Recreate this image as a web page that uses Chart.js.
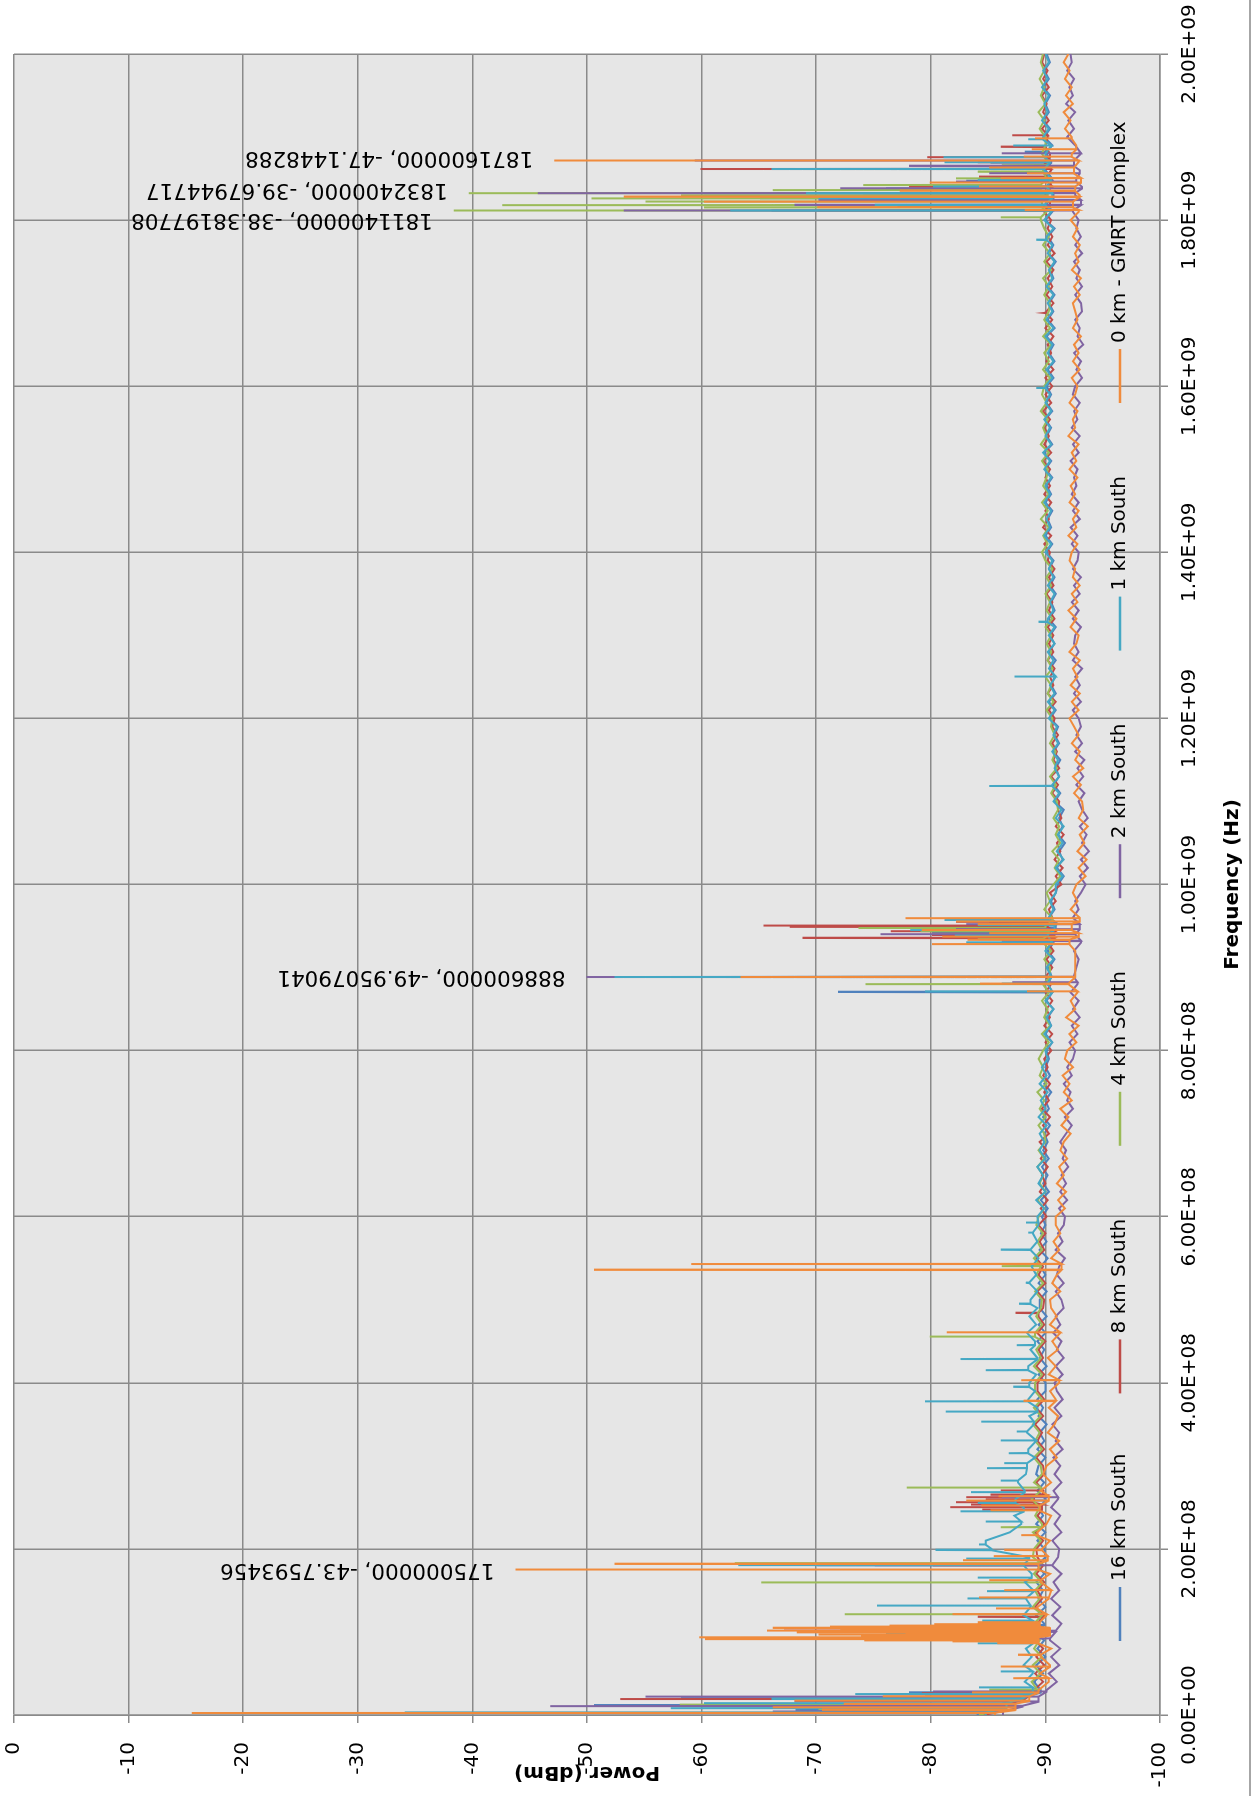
<!DOCTYPE html>
<html>
<head>
<meta charset="utf-8">
<title>Spectrum south of GMRT</title>
<script src="https://cdn.jsdelivr.net/npm/chart.js@4.4.1/dist/chart.umd.min.js"></script>
<style>
  html, body { margin: 0; padding: 0; background: #ffffff; overflow: hidden; width: 1257px; height: 1796px; }
  /* the sheet is printed in landscape and turned a quarter turn */
  #sheet { position: absolute; left: 0; top: 0; width: 1796px; height: 1257px;
           transform-origin: 0 0; transform: translate(0, 1796px) rotate(-90deg); }
  canvas { display: block; }
</style>
</head>
<body>
<div id="sheet"><canvas id="spectrum" width="1796" height="1257"></canvas></div>
<script>
// ---- series ----
const seriesNames  = ['16 km South', '8 km South', '4 km South', '2 km South', '1 km South', '0 km - GMRT Complex'];
const seriesColors = ['#4F81BD', '#BE4B48', '#9BBB59', '#8064A2', '#45A8C4', '#F08B3C'];

// ---- axes ----
const freqTickValues = [0, 2e8, 4e8, 6e8, 8e8, 1e9, 1.2e9, 1.4e9, 1.6e9, 1.8e9, 2e9];
const freqTickLabels = ['0.00E+00', '2.00E+08', '4.00E+08', '6.00E+08', '8.00E+08', '1.00E+09',
                        '1.20E+09', '1.40E+09', '1.60E+09', '1.80E+09', '2.00E+09'];
const powerTickValues = [-100, -90, -80, -70, -60, -50, -40, -30, -20, -10, 0];
const powerTickLabels = ['-100', '-90', '-80', '-70', '-60', '-50', '-40', '-30', '-20', '-10', '0'];
const freqTitle  = 'Frequency (Hz)';
const powerTitle = 'Power (dBm)';

// ---- sweep points (MHz) ----
const sweepMHz = [
  0, 10, 20, 30, 40, 50, 60, 70, 80, 90,
  100, 110, 120, 130, 140, 150, 160, 170, 180, 190,
  200, 210, 220, 230, 240, 250, 260, 270, 280, 290,
  300, 310, 320, 330, 340, 350, 360, 370, 380, 390,
  400, 410, 420, 430, 440, 450, 460, 470, 480, 490,
  500, 510, 520, 530, 540, 550, 560, 570, 580, 590,
  600, 610, 620, 630, 640, 650, 660, 670, 680, 690,
  700, 710, 720, 730, 740, 750, 760, 770, 780, 790,
  800, 810, 820, 830, 840, 850, 860, 870, 880, 890,
  900, 910, 920, 930, 940, 950, 960, 970, 980, 990,
  1000, 1010, 1020, 1030, 1040, 1050, 1060, 1070, 1080, 1090,
  1100, 1110, 1120, 1130, 1140, 1150, 1160, 1170, 1180, 1190,
  1200, 1210, 1220, 1230, 1240, 1250, 1260, 1270, 1280, 1290,
  1300, 1310, 1320, 1330, 1340, 1350, 1360, 1370, 1380, 1390,
  1400, 1410, 1420, 1430, 1440, 1450, 1460, 1470, 1480, 1490,
  1500, 1510, 1520, 1530, 1540, 1550, 1560, 1570, 1580, 1590,
  1600, 1610, 1620, 1630, 1640, 1650, 1660, 1670, 1680, 1690,
  1700, 1710, 1720, 1730, 1740, 1750, 1760, 1770, 1780, 1790,
  1800, 1810, 1820, 1830, 1840, 1850, 1860, 1870, 1880, 1890,
  1900, 1910, 1920, 1930, 1940, 1950, 1960, 1970, 1980, 1990,
  2000
];

// ---- noise floor at each sweep point (dBm) ----
const floor16km = [
  -84.0, -85.9, -87.8, -89.6, -89.0, -89.8, -89.2, -90.0, -89.3, -89.9,
  -89.3, -89.9, -89.2, -90.0, -89.4, -89.8, -89.2, -89.9, -89.3, -90.0,
  -89.9, -89.3, -90.0, -89.2, -89.8, -89.4, -90.0, -89.3, -89.9, -89.2,
  -89.4, -90.0, -89.3, -89.9, -89.5, -90.1, -89.4, -89.8, -89.3, -90.0,
  -90.0, -89.4, -90.1, -89.5, -89.9, -89.3, -90.0, -89.4, -90.1, -89.5,
  -89.5, -90.1, -89.4, -90.0, -89.6, -90.2, -89.5, -90.1, -89.6, -90.0,
  -89.7, -90.2, -89.6, -90.3, -89.8, -90.2, -89.7, -90.3, -89.8, -90.2,
  -89.9, -90.4, -89.8, -90.3, -90.0, -90.5, -89.9, -90.4, -90.0, -90.3,
  -90.1, -90.6, -90.0, -90.5, -90.2, -90.7, -90.1, -90.6, -90.2, -90.5,
  -90.3, -90.8, -90.2, -90.7, -90.4, -90.9, -90.3, -90.8, -90.5, -90.9,
  -91.1, -91.6, -91.0, -91.5, -91.2, -91.7, -91.1, -91.5, -91.2, -91.6,
  -90.8, -91.3, -90.7, -91.2, -90.9, -91.3, -90.7, -91.2, -90.8, -91.1,
  -90.4, -90.9, -90.3, -90.9, -90.5, -90.8, -90.4, -90.9, -90.3, -90.8,
  -90.4, -90.9, -90.3, -90.8, -90.5, -90.9, -90.4, -90.8, -90.3, -90.7,
  -90.1, -90.6, -90.0, -90.5, -90.2, -90.6, -90.0, -90.5, -90.1, -90.6,
  -90.0, -90.5, -89.9, -90.6, -90.1, -90.5, -90.0, -90.6, -90.1, -90.5,
  -90.1, -90.7, -90.2, -90.8, -90.3, -90.7, -90.1, -90.8, -90.2, -90.7,
  -90.3, -90.8, -90.2, -90.7, -90.4, -90.9, -90.3, -90.7, -90.2, -90.8,
  -90.0, -90.6, -90.1, -90.7, -90.2, -90.6, -90.0, -90.5, -90.1, -90.6,
  -89.9, -90.4, -89.8, -90.3, -90.0, -90.4, -89.8, -90.3, -89.9, -90.4,
  -90.1
];
const floor8km = [
  -84.6, -86.3, -88.2, -89.0, -89.8, -89.1, -89.9, -89.2, -89.8, -89.1,
  -89.8, -89.2, -89.9, -89.1, -89.7, -89.3, -89.9, -89.2, -89.8, -89.3,
  -89.2, -89.8, -89.1, -89.9, -89.3, -89.7, -89.0, -89.8, -89.2, -89.9,
  -89.8, -89.2, -89.9, -89.3, -89.7, -89.1, -89.8, -89.2, -89.9, -89.3,
  -89.3, -89.9, -89.2, -89.8, -89.4, -90.0, -89.3, -89.9, -89.4, -89.8,
  -89.9, -89.3, -90.0, -89.4, -89.8, -89.2, -89.9, -89.5, -90.0, -89.4,
  -90.1, -89.6, -90.2, -89.5, -90.0, -89.7, -90.2, -89.6, -90.1, -89.5,
  -90.3, -89.8, -90.4, -89.7, -90.3, -89.9, -90.4, -89.8, -90.2, -89.9,
  -90.5, -90.0, -90.6, -89.9, -90.4, -90.1, -90.6, -90.0, -90.5, -90.1,
  -90.6, -90.1, -90.7, -90.2, -90.8, -90.2, -90.6, -90.3, -90.9, -90.4,
  -91.4, -90.9, -91.5, -90.8, -91.3, -91.0, -91.6, -90.9, -91.4, -91.1,
  -91.2, -90.6, -91.1, -90.5, -91.2, -90.7, -91.0, -90.6, -91.1, -90.6,
  -90.8, -90.3, -90.9, -90.2, -90.7, -90.4, -90.8, -90.2, -90.7, -90.3,
  -90.7, -90.2, -90.8, -90.3, -90.6, -90.1, -90.7, -90.3, -90.8, -90.2,
  -90.4, -89.9, -90.5, -89.8, -90.3, -90.0, -90.5, -89.9, -90.4, -90.0,
  -90.4, -89.8, -90.5, -89.9, -90.3, -89.9, -90.4, -89.8, -90.5, -90.0,
  -90.6, -90.0, -90.7, -90.1, -90.5, -90.2, -90.7, -90.0, -90.6, -90.1,
  -90.7, -90.1, -90.6, -90.2, -90.7, -90.1, -90.8, -90.2, -90.6, -90.2,
  -90.5, -89.9, -90.4, -90.0, -90.6, -90.1, -90.5, -89.9, -90.4, -90.0,
  -90.2, -89.7, -90.3, -89.8, -90.1, -89.7, -90.3, -89.8, -90.2, -89.7,
  -89.9
];
const floor4km = [
  -84.2, -86.1, -88.0, -89.3, -88.8, -89.6, -88.9, -89.7, -89.0, -89.5,
  -89.6, -89.0, -89.7, -88.9, -89.5, -89.1, -89.7, -89.0, -89.6, -88.9,
  -89.0, -89.6, -88.9, -89.7, -89.1, -89.5, -88.8, -89.6, -89.0, -89.7,
  -89.6, -89.0, -89.7, -89.1, -89.5, -88.9, -89.6, -89.0, -89.7, -89.1,
  -89.1, -89.7, -89.0, -89.6, -89.2, -89.8, -89.1, -89.7, -89.2, -89.6,
  -89.7, -89.1, -89.8, -89.2, -89.6, -89.0, -89.7, -89.3, -89.8, -89.2,
  -89.4, -89.9, -89.3, -90.0, -89.5, -89.8, -89.3, -89.9, -89.4, -90.0,
  -89.9, -89.4, -90.0, -89.5, -89.9, -89.3, -90.1, -89.5, -89.8, -89.4,
  -89.8, -90.3, -89.7, -90.4, -89.9, -90.2, -89.7, -90.3, -89.8, -90.4,
  -90.4, -89.9, -90.5, -89.8, -90.3, -90.0, -90.6, -89.9, -90.4, -90.1,
  -90.7, -91.3, -90.8, -91.2, -90.6, -91.3, -90.9, -91.2, -90.7, -91.1,
  -91.0, -90.5, -90.9, -90.4, -91.0, -90.6, -90.9, -90.4, -90.8, -90.5,
  -90.6, -90.1, -90.7, -90.2, -90.5, -90.0, -90.6, -90.2, -90.5, -90.1,
  -90.5, -90.0, -90.6, -90.1, -90.4, -90.0, -90.5, -90.1, -90.6, -90.0,
  -89.7, -90.2, -89.8, -90.3, -89.6, -90.2, -89.7, -90.3, -89.8, -90.1,
  -90.2, -89.7, -90.3, -89.6, -90.1, -89.8, -90.2, -89.6, -90.1, -89.7,
  -89.9, -90.4, -89.8, -90.3, -89.9, -90.5, -89.8, -90.4, -89.9, -90.3,
  -90.4, -89.9, -90.3, -89.8, -90.5, -89.9, -90.4, -89.8, -90.3, -89.9,
  -89.6, -90.1, -89.7, -90.2, -89.6, -90.1, -89.8, -90.2, -89.7, -90.0,
  -90.0, -89.5, -89.9, -89.4, -90.0, -89.6, -89.9, -89.5, -89.9, -89.6,
  -89.8
];
const floor2km = [
  -86.3, -88.0, -89.4, -90.1, -91.0, -90.3, -91.2, -90.5, -91.3, -90.4,
  -90.9, -91.4, -90.6, -91.3, -90.5, -91.2, -90.7, -91.4, -90.6, -91.1,
  -91.2, -90.6, -91.4, -90.8, -91.3, -90.5, -91.1, -90.7, -91.4, -90.8,
  -91.3, -90.7, -91.5, -90.9, -91.2, -90.6, -91.4, -90.8, -91.5, -91.0,
  -90.8, -91.5, -90.9, -91.6, -91.0, -91.4, -90.7, -91.3, -90.9, -91.6,
  -91.4, -90.9, -91.6, -91.0, -91.2, -91.7, -90.9, -91.5, -91.1, -91.6,
  -91.7, -91.2, -91.9, -91.3, -91.8, -91.4, -92.0, -91.5, -91.8, -91.3,
  -91.8, -92.3, -91.7, -92.4, -91.9, -92.2, -91.6, -92.3, -91.9, -92.4,
  -92.6, -92.1, -92.8, -92.3, -93.0, -92.4, -92.9, -92.2, -92.8, -92.5,
  -92.7, -92.9, -92.5, -93.1, -92.6, -93.0, -92.4, -92.9, -92.6, -93.1,
  -93.5, -93.0, -93.7, -93.1, -93.8, -93.2, -93.6, -93.0, -93.7, -93.2,
  -92.9, -93.4, -92.7, -93.3, -92.8, -93.4, -92.6, -93.2, -92.7, -93.1,
  -92.9, -92.4, -93.1, -92.5, -93.0, -92.6, -93.2, -92.4, -92.9, -92.5,
  -92.6, -93.1, -92.4, -92.9, -92.3, -93.0, -92.5, -93.1, -92.4, -92.8,
  -92.9, -92.3, -92.8, -92.2, -93.0, -92.4, -92.9, -92.3, -92.7, -92.5,
  -92.8, -92.2, -92.9, -92.4, -93.0, -92.3, -92.8, -92.5, -93.0, -92.4,
  -92.6, -93.2, -92.7, -93.1, -92.5, -93.3, -92.8, -93.0, -92.6, -93.2,
  -93.1, -92.6, -93.2, -92.7, -93.0, -92.5, -93.2, -92.6, -93.1, -92.7,
  -92.9, -92.4, -93.1, -92.6, -93.2, -92.7, -93.0, -92.5, -93.1, -92.6,
  -91.9, -92.5, -92.0, -92.6, -91.8, -92.4, -92.1, -92.5, -91.9, -92.3,
  -92.2
];
const floor1km = [
  -84.8, -86.6, -87.8, -88.9, -88.2, -88.9, -88.1, -88.8, -88.3, -88.9,
  -88.2, -88.9, -88.1, -88.7, -88.3, -89.0, -88.2, -88.8, -88.1, -88.6,
  -85.3, -84.8, -86.9, -87.9, -87.3, -88.1, -87.4, -88.2, -87.6, -88.3,
  -88.4, -89.1, -88.5, -89.2, -88.4, -89.0, -88.6, -89.3, -88.5, -89.1,
  -88.6, -89.2, -88.5, -89.3, -88.7, -89.1, -88.4, -89.2, -88.6, -89.3,
  -88.7, -89.3, -88.6, -89.2, -88.8, -89.4, -88.7, -89.3, -88.9, -89.4,
  -89.3, -89.9, -89.2, -90.0, -89.4, -89.8, -89.3, -90.0, -89.5, -89.9,
  -89.5, -90.1, -89.4, -90.0, -89.6, -90.2, -89.5, -90.1, -89.7, -90.2,
  -90.0, -90.6, -89.9, -90.5, -90.1, -90.7, -90.0, -90.6, -90.2, -90.5,
  -90.1, -90.7, -90.0, -90.6, -90.2, -90.8, -90.3, -90.7, -90.4, -90.9,
  -90.9, -91.5, -90.9, -91.6, -91.0, -91.5, -91.1, -91.6, -90.9, -91.4,
  -90.7, -91.2, -90.6, -91.2, -90.8, -91.1, -90.6, -91.1, -90.7, -91.0,
  -90.3, -90.8, -90.2, -90.8, -90.4, -90.9, -90.3, -90.7, -90.2, -90.8,
  -90.3, -90.8, -90.2, -90.7, -90.4, -90.8, -90.2, -90.7, -90.3, -90.6,
  -90.0, -90.5, -89.9, -90.4, -90.1, -90.5, -89.9, -90.4, -90.0, -90.5,
  -89.9, -90.4, -89.8, -90.5, -90.0, -90.4, -89.9, -90.5, -90.0, -90.4,
  -90.0, -90.6, -90.1, -90.7, -90.2, -90.6, -90.0, -90.7, -90.1, -90.6,
  -90.2, -90.7, -90.1, -90.6, -90.3, -90.8, -90.2, -90.6, -90.1, -90.7,
  -89.9, -90.5, -90.0, -90.6, -90.1, -90.5, -89.9, -90.4, -90.0, -90.5,
  -89.8, -90.3, -89.7, -90.2, -89.9, -90.3, -89.7, -90.2, -89.8, -90.3,
  -90.0
];
const floor0km = [
  -85.6, -87.4, -88.6, -89.4, -90.3, -89.5, -90.4, -89.6, -90.5, -89.4,
  -90.4, -89.5, -90.1, -89.3, -90.3, -90.5, -89.6, -90.4, -89.4, -90.2,
  -89.7, -90.4, -89.3, -90.1, -90.5, -89.5, -90.3, -89.6, -90.5, -89.8,
  -90.1, -91.0, -90.4, -91.2, -90.2, -90.8, -91.1, -90.3, -90.9, -90.4,
  -91.2, -90.3, -90.9, -90.2, -91.1, -90.6, -91.3, -90.4, -91.0, -90.5,
  -90.4, -91.3, -90.6, -91.0, -91.4, -90.5, -91.2, -90.7, -91.3, -90.9,
  -90.9, -91.7, -91.1, -91.8, -91.0, -91.6, -91.2, -91.9, -91.3, -91.6,
  -92.2, -91.4, -92.0, -91.3, -92.3, -91.6, -92.1, -91.5, -92.4, -91.7,
  -91.9, -92.7, -92.1, -92.9, -91.8, -92.6, -92.2, -92.8, -92.0, -92.6,
  -92.6, -92.6, -92.6, -92.1, -92.9, -92.3, -93.0, -92.2, -92.8, -92.4,
  -92.7, -93.5, -92.9, -93.6, -92.8, -93.4, -93.0, -93.7, -92.9, -93.3,
  -93.2, -92.5, -93.1, -92.4, -93.3, -92.6, -93.0, -92.3, -92.9, -92.5,
  -92.1, -92.9, -92.3, -93.0, -92.2, -92.8, -92.4, -93.0, -92.1, -92.7,
  -92.9, -92.2, -92.7, -92.0, -92.8, -92.3, -93.0, -92.4, -92.6, -92.1,
  -92.3, -92.8, -92.0, -92.7, -92.4, -92.9, -92.1, -92.6, -92.2, -92.8,
  -92.1, -92.7, -92.3, -92.9, -92.0, -92.6, -92.4, -92.8, -92.1, -92.6,
  -92.8, -92.3, -93.0, -92.4, -92.9, -92.5, -93.1, -92.4, -92.8, -92.6,
  -92.4, -93.0, -92.5, -93.1, -92.3, -92.9, -92.6, -93.0, -92.4, -92.8,
  -92.2, -92.9, -92.4, -93.0, -92.6, -93.1, -92.5, -92.9, -92.3, -92.7,
  -92.3, -91.7, -92.2, -91.6, -92.4, -91.8, -92.3, -91.7, -92.1, -91.6,
  -92.0
];

// ---- narrow carriers: [MHz, dBm] ----
const spikes16km = [
  [6.1, -68.2], [12.0, -50.6], [20.1, -58.2], [27.2, -78.1],
  [96.1, -77.2], [108.2, -82.1], [180.4, -70.1], [258.2, -86.1],
  [870.6, -71.9], [888.6, -62.1],
  [936.1, -84.2], [942.1, -80.1], [948.2, -80.2], [954.1, -85.1],
  [1811.4, -66.1], [1818.1, -72.2], [1826.2, -65.1], [1832.4, -60.2], [1838.1, -76.1],
  [1847.2, -83.1], [1861.5, -76.4], [1869.1, -85.2], [1882.1, -88.2]
];
const spikes8km = [
  [5.2, -72.1], [10.8, -60.1], [19.2, -52.9], [26.1, -79.2],
  [97.2, -78.1], [104.1, -67.2], [118.2, -84.1], [180.1, -80.2],
  [247.2, -84.5], [250.1, -81.7], [253.2, -83.5], [256.1, -82.2], [259.2, -84.8],
  [262.1, -83.1], [265.2, -85.2], [270.4, -86.1],
  [484.1, -87.4], [888.6, -70.1],
  [935.6, -68.8], [939.2, -80.1], [943.6, -76.5], [949.0, -67.7], [950.4, -65.4], [955.1, -82.2],
  [1688.2, -89.9], [1811.4, -70.2], [1816.1, -77.1], [1824.0, -71.9], [1832.4, -74.1],
  [1840.2, -78.1], [1852.1, -84.2], [1861.5, -59.9], [1869.5, -84.1], [1875.6, -79.7],
  [1888.2, -86.1], [1902.0, -87.1]
];
const spikes4km = [
  [7.1, -70.2], [12.2, -58.1], [22.3, -79.5], [30.4, -85.1],
  [94.2, -80.1], [121.2, -72.5], [159.3, -65.2], [182.7, -62.9], [226.1, -86.1],
  [273.7, -77.9], [455.5, -79.9], [540.6, -86.2],
  [880.0, -74.3], [888.6, -65.1],
  [934.2, -84.1], [943.6, -79.1], [947.6, -73.7], [956.1, -84.2],
  [1803.2, -86.1], [1811.4, -38.38197708], [1815.1, -60.2], [1818.0, -42.6], [1822.2, -55.1],
  [1826.0, -50.4], [1829.1, -58.2], [1832.4, -39.67944717], [1836.1, -66.2], [1842.2, -74.1],
  [1850.1, -82.2], [1858.2, -84.1], [1866.1, -86.2]
];
const spikes2km = [
  [4.1, -66.2], [10.8, -46.8], [16.2, -68.1], [22.0, -55.1], [28.2, -80.2],
  [92.1, -73.2], [101.2, -80.1], [180.2, -75.1], [262.1, -86.2],
  [882.2, -87.1], [888.6, -49.95079041],
  [932.1, -86.2], [940.0, -75.6], [946.1, -82.2], [952.2, -83.1],
  [1811.4, -53.2], [1818.2, -68.1], [1824.1, -70.2], [1832.4, -45.7], [1838.2, -72.1],
  [1846.1, -82.2], [1856.3, -85.1], [1865.2, -78.1], [1871.6, -59.4], [1880.3, -86.2]
];
const spikes1km = [
  [3.0, -34.1], [8.2, -57.3], [14.1, -60.2], [19.3, -66.1], [25.2, -73.4], [33.1, -84.2], [52.3, -86.1],
  [86.2, -84.1], [95.1, -81.2], [98.3, -76.1], [104.2, -79.3], [113.4, -84.5], [131.6, -75.3],
  [140.2, -83.2], [149.1, -84.9], [165.3, -84.1], [180.6, -63.2], [188.2, -83.1], [198.7, -80.4],
  [205.2, -84.2], [232.8, -84.8], [245.1, -82.6], [255.3, -84.1], [268.2, -83.5], [282.1, -86.1],
  [297.2, -84.9], [303.1, -86.4], [315.2, -86.8], [330.6, -86.1], [341.2, -87.5], [353.1, -84.4],
  [365.2, -81.3], [377.5, -79.5], [395.1, -87.2], [415.2, -84.8], [428.6, -82.6], [445.3, -87.5],
  [495.1, -87.7], [520.4, -88.3], [560.2, -86.1], [580.7, -88.5], [592.8, -88.3],
  [871.1, -79.5], [880.6, -86.2], [888.6, -52.4],
  [930.4, -83.1], [938.2, -82.1], [945.1, -78.2], [951.2, -84.1], [957.3, -81.2],
  [1118.6, -85.1], [1250.4, -87.3], [1316.2, -89.4], [1597.8, -89.2], [1776.2, -89.2],
  [1811.4, -62.5], [1818.2, -75.1], [1826.1, -70.2], [1832.4, -69.1], [1840.3, -80.2],
  [1848.2, -84.1], [1861.5, -66.1], [1869.5, -81.2], [1875.6, -81.1], [1889.6, -87.2], [1897.2, -88.5]
];
const spikes0km = [
  [2.4, -15.5], [6.2, -70.5], [9.1, -66.2], [13.3, -72.4], [17.2, -68.1], [22.4, -75.8], [27.1, -83.6],
  [44.3, -87.2], [58.2, -86.1], [72.4, -87.6],
  [86.3, -85.8], [88.5, -81.9], [89.6, -74.2], [91.2, -60.3], [93.4, -59.8], [95.8, -73.9], [96.7, -70.2],
  [98.5, -77.8], [99.5, -68.3], [101.5, -65.7], [103.1, -72.1], [104.8, -66.2], [106.3, -71.2],
  [107.5, -76.4], [109.2, -80.3], [111.6, -84.1],
  [121.3, -81.9], [128.2, -85.7], [141.4, -84.2], [150.3, -86.4], [162.2, -85.1],
  [175, -43.7593456], [181.9, -52.4], [186.2, -82.8], [191.3, -85.5], [198.7, -86.4],
  [216.4, -87.9], [246.3, -85.2], [252.2, -84.4], [258.1, -83.1], [263.4, -85.9],
  [378.2, -88.1], [403.1, -87.9], [460.8, -81.4], [536, -50.6], [543, -59.1],
  [871.2, -88.4], [880.4, -84.3], [888.6, -63.4],
  [928.2, -80.1], [933.4, -83.2], [937.1, -81.0], [941.3, -85.1], [945.2, -79.2],
  [952.3, -84.1], [955.4, -82.2], [959.3, -77.8],
  [1812.1, -88.2], [1815.4, -70.1], [1822.1, -60.2], [1828.1, -53.2], [1835.3, -77.3],
  [1840.6, -84.2], [1845.1, -79.9], [1850.6, -86.1], [1856.2, -88.4], [1863.2, -85.1],
  [1871.6, -47.1448288], [1876.3, -88.1], [1885.2, -88.8], [1898.3, -89.1]
];

// carriers that carry a "frequency, power" call-out: series index, MHz, sideways nudge (px)
const calloutPoints = [
  { series: 5, mhz: 175,    nudge: 0 },
  { series: 3, mhz: 888.6,  nudge: 0 },
  { series: 2, mhz: 1811.4, nudge: -9 },
  { series: 2, mhz: 1832.4, nudge: 4 },
  { series: 5, mhz: 1871.6, nudge: 3 }
];

const floors = [floor16km, floor8km, floor4km, floor2km, floor1km, floor0km];
const spikes = [spikes16km, spikes8km, spikes4km, spikes2km, spikes1km, spikes0km];

// merge the swept floor with the narrow carriers (each carrier sits on the floor level)
function buildTrace(floor, carriers) {
  const pts = [];
  sweepMHz.forEach((f, i) => {
    if (carriers.some(c => Math.abs(c[0] - f) < 0.35)) return;
    pts.push({ x: Math.round(f * 1e6), y: floor[i] });
  });
  carriers.forEach(([f, p]) => {
    const base = floor[Math.round(f / 10)];
    pts.push({ x: Math.round((f - 0.3) * 1e6), y: base });
    pts.push({ x: Math.round(f * 1e6), y: p });
    pts.push({ x: Math.round((f + 0.3) * 1e6), y: base });
  });
  pts.sort((a, b) => a.x - b.x);
  return pts;
}

const FONT = '"DejaVu Sans", "Liberation Sans", sans-serif';
const GRID = '#8a8a8a';

const plotBackground = {
  id: 'plotBackground',
  beforeDraw(chart) {
    const { ctx, chartArea: a } = chart;
    ctx.save();
    ctx.fillStyle = '#ffffff';
    ctx.fillRect(0, 0, chart.width, chart.height);
    ctx.fillStyle = '#e6e6e6';
    ctx.fillRect(a.left, a.top, a.right - a.left, a.bottom - a.top);
    ctx.restore();
  }
};

const callouts = {
  id: 'callouts',
  afterDatasetsDraw(chart) {
    const { ctx, scales: { x, y } } = chart;
    ctx.save();
    ctx.font = '21.5px ' + FONT;
    ctx.fillStyle = '#000000';
    ctx.textAlign = 'left';
    ctx.textBaseline = 'middle';
    calloutPoints.forEach(c => {
      const hz = Math.round(c.mhz * 1e6);
      const pt = chart.data.datasets[c.series].data.find(p => p.x === hz);
      if (!pt) return;
      const px = x.getPixelForValue(pt.x) + c.nudge;
      const py = y.getPixelForValue(pt.y);
      ctx.save();
      ctx.translate(px, py - 21);
      ctx.rotate(-Math.PI / 2);
      ctx.fillText(pt.x + ', ' + pt.y, 0, 0);
      ctx.restore();
    });
    ctx.restore();
  }
};

const sheetExtras = {
  id: 'sheetExtras',
  afterDraw(chart) {
    const { ctx, chartArea: a } = chart;
    ctx.save();
    // series key
    ctx.font = '20px ' + FONT;
    ctx.textBaseline = 'middle';
    ctx.textAlign = 'left';
    seriesNames.forEach((name, i) => {
      const x0 = 155 + 247.6 * i, y0 = 1120;
      ctx.strokeStyle = seriesColors[i];
      ctx.lineWidth = 2.5;
      ctx.beginPath();
      ctx.moveTo(x0, y0);
      ctx.lineTo(x0 + 54, y0);
      ctx.stroke();
      ctx.fillStyle = '#000000';
      ctx.fillText(name, x0 + 60, y0);
    });
    // power axis title, reading upwards
    ctx.font = 'bold 20px ' + FONT;
    ctx.textAlign = 'center';
    ctx.save();
    ctx.translate(24, (a.top + a.bottom) / 2);
    ctx.rotate(-Math.PI / 2);
    ctx.fillText(powerTitle, 0, 0);
    ctx.restore();
    // outer frame of the chart sheet
    ctx.strokeStyle = '#a6a6a6';
    ctx.lineWidth = 2;
    ctx.beginPath();
    ctx.moveTo(0, 1250);
    ctx.lineTo(chart.width, 1250);
    ctx.stroke();
    ctx.restore();
  }
};

const datasets = seriesNames.map((name, i) => ({
  label: name,
  data: buildTrace(floors[i], spikes[i]),
  borderColor: seriesColors[i],
  backgroundColor: seriesColors[i],
  borderWidth: 2,
  pointRadius: 0,
  tension: 0,
  fill: false,
  order: 6 - i
}));

new Chart(document.getElementById('spectrum'), {
  type: 'line',
  data: { datasets },
  options: {
    responsive: false,
    animation: false,
    devicePixelRatio: 1,
    layout: { padding: { top: 14, right: 54, bottom: 0, left: 0 } },
    plugins: { legend: { display: false }, tooltip: { enabled: false }, title: { display: false } },
    scales: {
      x: {
        type: 'linear',
        min: 0, max: 2e9,
        afterBuildTicks: s => { s.ticks = freqTickValues.map(v => ({ value: v })); },
        afterFit: s => { s.height = 97; s.paddingLeft = 0; s.paddingRight = 0; },
        ticks: {
          callback: (v, i) => freqTickLabels[i],
          font: { family: FONT, size: 20 },
          color: '#000000',
          padding: 10,
          maxRotation: 0, minRotation: 0,
          autoSkip: false
        },
        grid: { color: GRID, lineWidth: 1.5, tickLength: 8, tickColor: GRID, tickWidth: 1.5 },
        border: { color: GRID, width: 1.5 },
        title: {
          display: true, text: freqTitle, color: '#000000',
          font: { family: FONT, size: 20, weight: 'bold' },
          padding: { top: 0, bottom: 12 }
        }
      },
      y: {
        type: 'linear',
        min: -100, max: 0,
        afterBuildTicks: s => { s.ticks = powerTickValues.map(v => ({ value: v })); },
        afterFit: s => { s.width = 81; s.paddingTop = 0; s.paddingBottom = 0; },
        ticks: {
          callback: (v, i) => powerTickLabels[i],
          font: { family: FONT, size: 20 },
          color: '#000000',
          padding: 19
        },
        grid: { color: GRID, lineWidth: 1.5, tickLength: 8, tickColor: GRID, tickWidth: 1.5 },
        border: { color: GRID, width: 1.5 },
        title: { display: false }
      }
    }
  },
  plugins: [plotBackground, callouts, sheetExtras]
});
</script>
</body>
</html>
